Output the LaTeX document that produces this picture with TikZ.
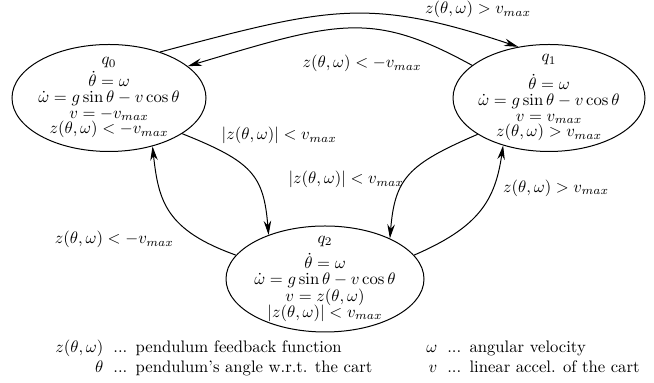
\documentclass[tikz,border=0pt]{standalone}
\usepackage{amsmath,amssymb}
\usepackage{tikz}
\usetikzlibrary{arrows.meta,positioning,shapes.geometric}

\begin{document}
\begin{tikzpicture}[x=0.6pt, y=0.6pt, >={Stealth[length=8.5pt, width=4.5pt]},
    mode/.style={draw, ellipse, line width=0.6pt, inner xsep=-4pt, inner ysep=-6pt, align=center},
    jump/.style={->, line width=0.6pt},
    lbl/.style={inner sep=1pt}]
    \useasboundingbox (0,0) rectangle (654,383);
    % --- the three modes ---
    \node[mode, minimum width=116.4pt, minimum height=64.2pt] (q0) at (109,285)
      {$q_0$\\[1.2pt] $\dot\theta=\omega$\\[-2.6pt] $\dot\omega=g\sin\theta-v\cos\theta$\\[-2.6pt]
       $v=-v_{max}$\\[-2.6pt] $z(\theta,\omega)<-v_{max}$};
    \node[mode, minimum width=115.2pt, minimum height=64.2pt] (q1) at (549,285)
      {$q_1$\\[4.8pt] $\dot\theta=\omega$\\[-2.6pt] $\dot\omega=g\sin\theta-v\cos\theta$\\[-2.6pt]
       $v=v_{max}$\\[-2.6pt] $z(\theta,\omega)>v_{max}$};
    \node[mode, minimum width=118.8pt, minimum height=63.6pt] (q2) at (325,104)
      {$q_2$\\[3pt] $\dot\theta=\omega$\\[-2.2pt] $\dot\omega=g\sin\theta-v\cos\theta$\\[-2.2pt]
       $v=z(\theta,\omega)$\\[-2.2pt] $|z(\theta,\omega)|<v_{max}$};
    % --- switching between q0 and q1 over the top ---
    \draw[jump] (q0.42) .. controls +(170,45) and +(-150,50) ..
      node[lbl, pos=0.75, anchor=south west] (gA) {$z(\theta,\omega)>v_{max}$} (q1.121);
    \draw[jump] (q1.157) .. controls +(-100,55) and +(150,45) ..
      node[lbl, pos=0.5, below=15pt, xshift=8pt] (gB) {$z(\theta,\omega)<-v_{max}$} (q0.22);
    % --- into q2 ---
    \draw[jump] (q0.-26) .. controls +(70,-28) and +(-5,60) ..
      node[lbl, pos=0.25, anchor=south west, xshift=-3pt, yshift=4pt] (gC) {$|z(\theta,\omega)|<v_{max}$} (q2.142);
    \draw[jump] (q1.207) .. controls +(-70,-30) and +(5,60) ..
      node[lbl, pos=0.55, anchor=east] (gD) {$|z(\theta,\omega)|<v_{max}$} (q2.32);
    % --- out of q2 ---
    \draw[jump] (q2.15) .. controls +(65,28) and +(-8,-55) ..
      node[lbl, pos=0.7, anchor=west, xshift=5pt] (gE) {$z(\theta,\omega)>v_{max}$} (q1.226);
    \draw[jump] (q2.165) .. controls +(-70,25) and +(6,-55) ..
      node[lbl, pos=0.2, left=15pt] (gF) {$z(\theta,\omega)<-v_{max}$} (q0.-48);
    % --- legend ---
    \node[anchor=west, inner sep=0pt] (keyL) at (55,24.5)
      {\begin{tabular}{@{}r@{\hspace{6pt}}l@{}}
        $z(\theta,\omega)$ & ...\enskip pendulum feedback function\\
        $\theta$ & ...\enskip pendulum's angle w.r.t. the cart
       \end{tabular}};
    \node[anchor=west, inner sep=0pt] (keyR) at (426,24.5)
      {\begin{tabular}{@{}r@{\hspace{6pt}}l@{}}
        $\omega$ & ...\enskip angular velocity\\
        $v$ & ...\enskip linear accel. of the cart
       \end{tabular}};
\end{tikzpicture}
\end{document}
